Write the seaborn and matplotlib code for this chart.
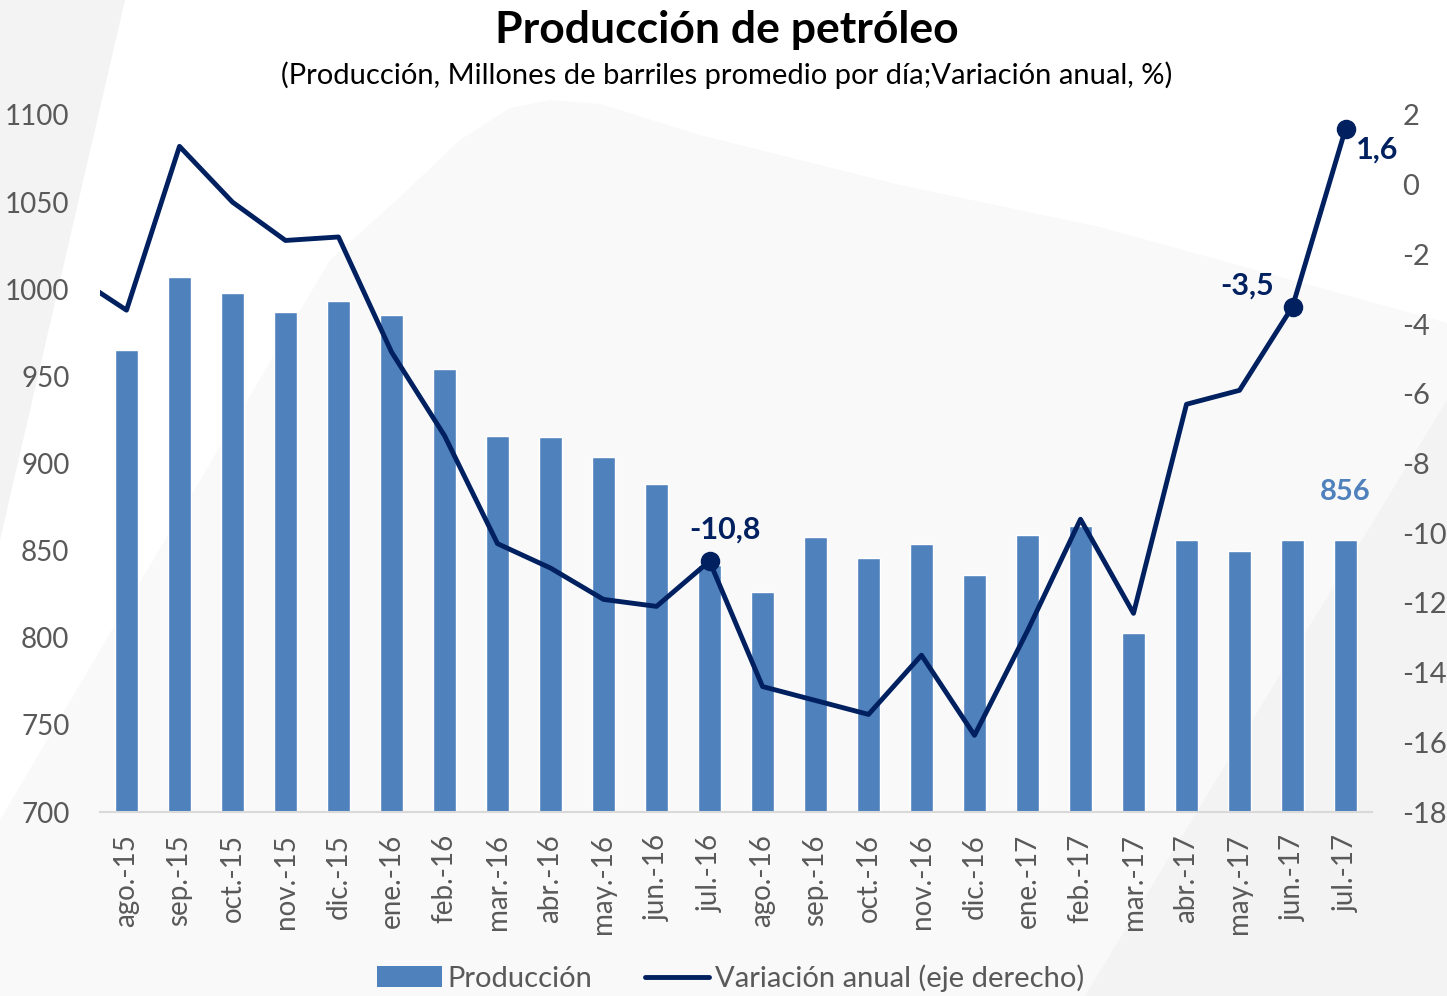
import numpy as np
import pandas as pd
import matplotlib.pyplot as plt
import seaborn as sns
from matplotlib.patches import Polygon, Patch
from matplotlib.lines import Line2D

# Data
meses = ['ago.-15', 'sep.-15', 'oct.-15', 'nov.-15', 'dic.-15', 'ene.-16',
         'feb.-16', 'mar.-16', 'abr.-16', 'may.-16', 'jun.-16', 'jul.-16',
         'ago.-16', 'sep.-16', 'oct.-16', 'nov.-16', 'dic.-16', 'ene.-17',
         'feb.-17', 'mar.-17', 'abr.-17', 'may.-17', 'jun.-17', 'jul.-17']
produccion = [965, 1007, 998, 987, 993, 985, 954, 916, 915, 904, 888, 842,
              826, 858, 846, 854, 836, 859, 864, 803, 856, 850, 856, 856]
# variation starts one month earlier (jul.-15), drawn outside the visible range
variacion_prev = -2.6
variacion = [-3.6, 1.1, -0.5, -1.6, -1.5, -4.8, -7.2, -10.3, -11.0, -11.9, -12.1, -10.8,
             -14.4, -14.8, -15.2, -13.5, -15.8, -12.8, -9.6, -12.3, -6.3, -5.9, -3.5, 1.6]
destacados = [11, 22, 23]
etiquetas = ['-10,8', '-3,5', '1,6']

BAR = '#4F81BD'
NAVY = '#002060'
GREY = '#595959'

sns.set_style('white')
plt.rcParams['font.family'] = ['Lato', 'DejaVu Sans']
plt.rcParams['axes.unicode_minus'] = False

df = pd.DataFrame({'mes': meses, 'produccion': produccion})
df_line = pd.DataFrame({'x': np.arange(-1, len(meses)),
                        'var': [variacion_prev] + variacion})

fig = plt.figure(figsize=(14.47, 9.96), dpi=100)
fig.patch.set_facecolor('white')

# Decorative background shapes (pixel coords -> figure fraction)
def px(points):
    return [(x / 1447, 1 - y / 996) for x, y in points]

blob = [(330, 260), (400, 197), (460, 140), (510, 108), (550, 100), (600, 104),
        (700, 135), (900, 185), (1100, 227), (1447, 323),
        (1447, 996), (0, 996), (0, 820)]
fig.patches.append(Polygon(px(blob), closed=True, transform=fig.transFigure,
                           facecolor='#F9F9F9', edgecolor='none', zorder=-3))
fig.patches.append(Polygon(px([(0, 0), (125, 0), (0, 540)]), closed=True,
                           transform=fig.transFigure, facecolor='#F3F3F3',
                           edgecolor='none', zorder=-2))
fig.patches.append(Polygon(px([(1447, 400), (1447, 996), (1085, 996)]), closed=True,
                           transform=fig.transFigure, facecolor='#F3F3F3',
                           edgecolor='none', zorder=-2))

ax = fig.add_axes([100 / 1447, 1 - 812 / 996, 1272 / 1447, 697 / 996])
ax.patch.set_alpha(0)
sns.barplot(data=df, x='mes', y='produccion', color=BAR, saturation=1,
            width=0.42, ax=ax)
ax.set_ylim(700, 1100)
ax.set_yticks(np.arange(700, 1101, 50))
ax.set_xlim(-0.5, len(meses) - 0.5)
ax.set_xlabel('')
ax.set_ylabel('')
ax.tick_params(axis='y', labelsize=20, labelcolor=GREY, length=0, pad=22)
ax.tick_params(axis='x', which='major', labelsize=20, labelcolor=GREY,
               length=0, rotation=90, pad=16)
ax.set_xticks(np.arange(-0.5, len(meses), 1), minor=True)
ax.tick_params(axis='x', which='minor', length=10, color='#D9D9D9', width=1.5)
for s in ['top', 'left', 'right']:
    ax.spines[s].set_visible(False)
ax.spines['bottom'].set_color('#D9D9D9')
ax.spines['bottom'].set_linewidth(1.5)

ax.text(len(meses) - 1, produccion[-1] + 20, str(produccion[-1]), ha='center',
        va='bottom', fontsize=21, fontweight='bold', color=BAR)

ax2 = ax.twinx()
sns.lineplot(data=df_line, x='x', y='var', color=NAVY, linewidth=3.5, ax=ax2)
pts = df_line[df_line['x'].isin(destacados)]
ax2.scatter(pts['x'], pts['var'], s=170, color=NAVY, zorder=5)
ax2.set_xlim(-0.5, len(meses) - 0.5)
ax2.set_ylim(-18, 2)
ax2.set_yticks(np.arange(-18, 3, 2))
ax2.set_ylabel('')
ax2.set_xlabel('')
ax2.tick_params(axis='y', labelsize=21, labelcolor=GREY, length=0, pad=22)
for s in ax2.spines.values():
    s.set_visible(False)

offsets = [(0.3, 0.5, 'center', 'bottom'), (-0.85, 0.2, 'center', 'bottom'),
           (0.6, -1.0, 'center', 'bottom')]
for i, lab, (dx, dy, ha, va) in zip(destacados, etiquetas, offsets):
    ax2.text(i + dx, variacion[i] + dy, lab, ha=ha, va=va, fontsize=22,
             fontweight='bold', color=NAVY)

fig.text(0.5025, 0.97, 'Producción de petróleo', ha='center', va='center',
         fontsize=32, fontweight='bold', color='black')
fig.text(0.5025, 0.925,
         '(Producción, Millones de barriles promedio por día;Variación anual, %)',
         ha='center', va='center', fontsize=21, color='black')

handles = [Patch(facecolor=BAR, edgecolor='none'),
           Line2D([0], [0], color=NAVY, linewidth=3.5)]
fig.legend(handles, ['Producción', 'Variación anual (eje derecho)'],
           loc='center', bbox_to_anchor=(0.505, 0.018), ncol=2, frameon=False,
           fontsize=21, labelcolor=GREY, handlelength=2.2, handletextpad=0.2,
           columnspacing=1.8)

fig.savefig('out.png', dpi=100)
